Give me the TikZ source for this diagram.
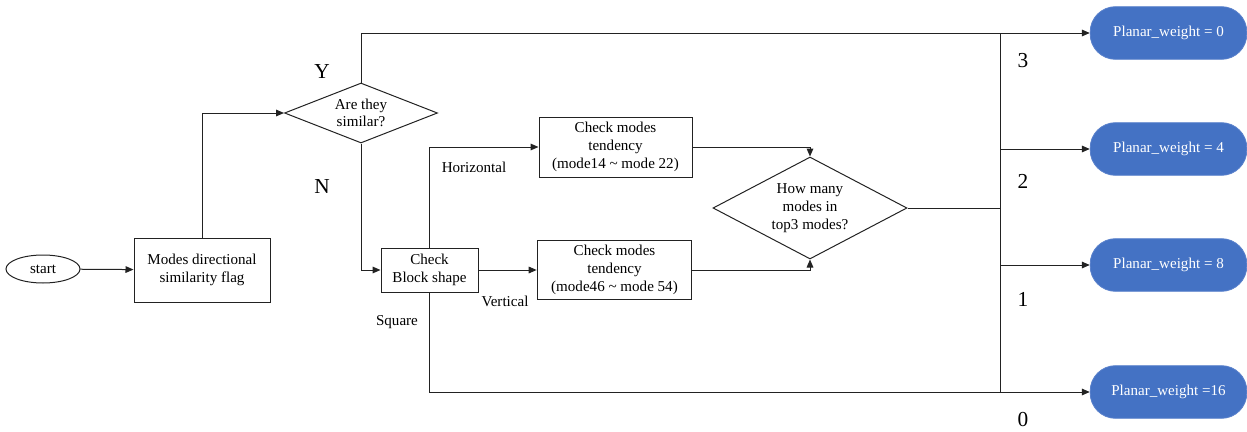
\documentclass[tikz,border=0pt]{standalone}
\usepackage{fontspec}
\setmainfont{Liberation Serif}
\usetikzlibrary{shapes.geometric,arrows.meta}
\definecolor{pwblue}{HTML}{4472C4}
\definecolor{pwedge}{HTML}{5B82CC}
\definecolor{ln}{HTML}{222222}
\begin{document}
\begin{tikzpicture}[x=0.75pt,y=-0.75pt,
  every node/.style={font=\fontsize{11.3}{13.3}\selectfont, text=black},
  boxstyle/.style={draw=ln, line width=0.75pt, rectangle, align=center, inner sep=1pt},
  decide/.style={draw=ln, line width=0.75pt, diamond, align=center, inner sep=0pt},
  pw/.style={fill=pwblue, draw=pwedge, line width=0.6pt, rectangle, rounded corners=19pt,
    minimum width=117.5pt, minimum height=39.5pt, text=white, inner sep=0pt},
  big/.style={font=\fontsize{16}{18}\selectfont},
  lbl/.style={font=\fontsize{11.3}{13.3}\selectfont},
  conn/.style={draw=ln, line width=0.75pt},
  arr/.style={conn, -{Triangle[length=6pt,width=5pt]}}
]
\useasboundingbox (0,0) rectangle (1247,432);

\node[draw=ln, line width=0.75pt, ellipse, minimum width=55.5pt, minimum height=21pt, inner sep=0pt] (start) at (43,269) {start};
\node[boxstyle, minimum width=102pt, minimum height=48pt] (modes) at (202,270) {Modes directional\\similarity flag};
\node[decide, aspect=2.55, minimum width=114.75pt, minimum height=45pt] (sim) at (361,113) {Are they\\similar?};
\node[boxstyle, minimum width=72.75pt, minimum height=33pt] (blk) at (429.5,270) {Check\\Block shape};
\node[boxstyle, minimum width=114.75pt, minimum height=45pt] (t1) at (615.5,147) {Check modes\\tendency\\(mode14 \textasciitilde{} mode 22)};
\node[boxstyle, minimum width=116pt, minimum height=44.5pt] (t2) at (614.5,270) {Check modes\\tendency\\(mode46 \textasciitilde{} mode 54)};
\node[decide, aspect=1.9, minimum width=145.5pt, minimum height=76.5pt] (q) at (810,208) {How many\\modes in\\top3 modes?};

\node[pw] (pw0) at (1168.5,33) {Planar\_weight = 0};
\node[pw] (pw4) at (1168.5,149) {Planar\_weight = 4};
\node[pw] (pw8) at (1168.5,265) {Planar\_weight = 8};
\node[pw] (pw16) at (1168.5,392) {Planar\_weight =16};

\coordinate (bus) at (1000,208);

\draw[arr] (start) -- (modes);
\draw[arr] (modes.north) |- (sim.west);
\draw[arr] (sim.north) |- (pw0.west);
\draw[arr] (sim.south) |- (blk.west);
\draw[arr] (blk.north) |- (t1.west);
\draw[arr] (blk.east) -- (blk.east -| t2.west);
\draw[arr] (blk.south) |- (pw16.west);
\draw[arr] (t1.east) -| (q.north);
\draw[arr] (t2.east) -| (q.south);
\draw[conn] (q.east) -- (bus);
\draw[conn] (bus |- pw0.west) -- (bus |- pw16.west);
\draw[arr] (bus |- pw4.west) -- (pw4.west);
\draw[arr] (bus |- pw8.west) -- (pw8.west);

\node[big] (ly) at (322,72) {Y};
\node[big] (ln) at (322,187) {N};
\node[lbl] (lh) at (474,167) {Horizontal};
\node[lbl] (lv) at (505,301) {Vertical};
\node[lbl] (lsq) at (397,322) {Square};
\node[big] (l3) at (1023,61) {3};
\node[big] (l2) at (1023,181) {2};
\node[big] (l1) at (1023,299) {1};
\node[big] (l0) at (1023,420) {0};
\end{tikzpicture}
\end{document}
